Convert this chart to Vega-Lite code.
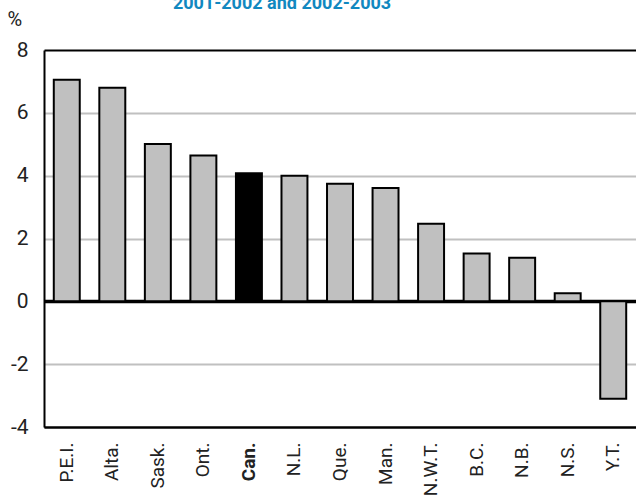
{
  "$schema": "https://vega.github.io/schema/vega-lite/v6.json",
  "autosize": "none",
  "width": 592,
  "height": 377,
  "padding": {"left": 44, "top": 50, "right": 0, "bottom": 73},
  "background": "white",
  "title": {
    "text": "2001-2002 and 2002-2003",
    "anchor": "middle",
    "frame": "group",
    "baseline": "alphabetic",
    "offset": 0,
    "dx": -58,
    "dy": 18,
    "font": "Roboto, sans-serif",
    "fontSize": 18,
    "fontWeight": "bold",
    "color": "#1188c0"
  },
  "data": {
    "values": [
      {"region": "P.E.I.", "value": 7.05},
      {"region": "Alta.", "value": 6.8},
      {"region": "Sask.", "value": 5.01},
      {"region": "Ont.", "value": 4.64},
      {"region": "Can.", "value": 4.08},
      {"region": "N.L.", "value": 4.0},
      {"region": "Que.", "value": 3.74},
      {"region": "Man.", "value": 3.61},
      {"region": "N.W.T.", "value": 2.47},
      {"region": "B.C.", "value": 1.52},
      {"region": "N.B.", "value": 1.39},
      {"region": "N.S.", "value": 0.26},
      {"region": "Y.T.", "value": -3.1}
    ]
  },
  "config": {
    "view": {"stroke": null},
    "axis": {
      "labelFont": "Roboto, sans-serif",
      "titleFont": "Roboto, sans-serif",
      "labelColor": "#222222",
      "titleColor": "#222222"
    }
  },
  "mark": {"type": "bar", "stroke": "black", "strokeWidth": 2},
  "encoding": {
    "x": {
      "field": "region",
      "type": "nominal",
      "sort": null,
      "scale": {"paddingInner": 0.43, "paddingOuter": 0.215},
      "axis": {
        "title": null,
        "labelAngle": -90,
        "labelAlign": "right",
        "labelBaseline": "middle",
        "labelFontSize": 19,
        "labelPadding": 15,
        "labelFontWeight": {"condition": {"test": "datum.value === 'Can.'", "value": "bold"}, "value": "normal"},
        "ticks": false,
        "domain": true,
        "domainColor": "black",
        "domainWidth": 2
      }
    },
    "y": {
      "field": "value",
      "type": "quantitative",
      "scale": {"domain": [-4, 8], "nice": false},
      "axis": {
        "values": [-4, -2, 0, 2, 4, 6, 8],
        "labelExpr": "datum.value < 0 ? '-' + abs(datum.value) : '' + datum.value",
        "title": "%",
        "titleAngle": 0,
        "titleAlign": "left",
        "titleBaseline": "alphabetic",
        "titleX": -37,
        "titleY": -25,
        "titleFontSize": 20,
        "titleFontWeight": "normal",
        "labelFontSize": 21,
        "labelPadding": 16,
        "ticks": false,
        "domain": true,
        "domainColor": "black",
        "domainWidth": 2,
        "grid": true,
        "gridColor": {"condition": {"test": "datum.value === 0 || datum.value === 8 || datum.value === -4", "value": "black"}, "value": "#c0c0c0"},
        "gridWidth": {"condition": {"test": "datum.value === 0", "value": 3.5}, "value": 2}
      }
    },
    "fill": {
      "condition": {"test": "datum.region === 'Can.'", "value": "black"},
      "value": "#c0c0c0"
    }
  }
}
